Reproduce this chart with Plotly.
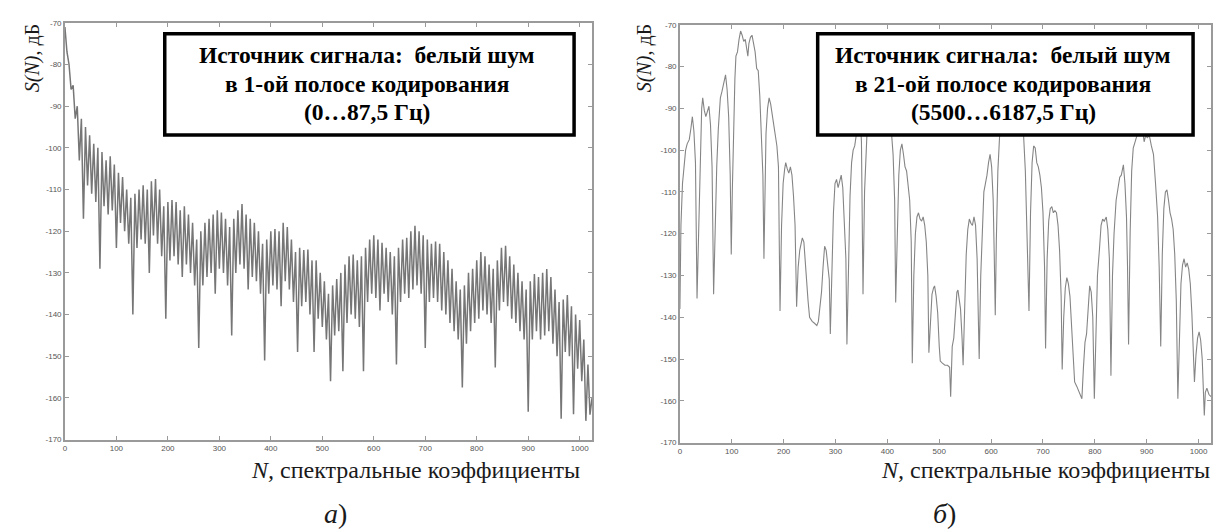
import plotly.graph_objects as go

# ---------------- data ----------------
# Panel a): spectrum S(N) in dB, sampled every 4 coefficients (N = 0, 4, ..., 1024)
left_db = [
    -71, -77, -80, -86, -85, -93, -90, -103, -93, -117, -95, -109, -97, -111, -99, -113,
    -100, -129, -101, -114, -103, -116, -102, -115, -104, -124, -106, -118, -107, -120, -110, -123,
    -112, -140, -111, -124, -110, -122, -109, -123, -110, -130, -108, -121, -107.5, -123, -110, -126,
    -114, -141, -113, -127, -112.5, -126, -113, -128, -115, -131, -114, -128, -116, -130, -118, -133,
    -122, -148, -120, -133, -118, -131, -117, -130, -116, -135, -115, -129, -115.5, -130, -117, -133,
    -119, -145, -117, -130, -115, -128, -113.5, -129, -116, -134, -117, -131, -118, -132, -120, -135,
    -123, -151, -122, -135, -120, -133, -119.5, -134, -120, -138, -118, -132, -119, -134, -122, -137,
    -125, -149, -124, -138, -124.5, -137, -124.4, -140, -127, -149, -127, -141, -130, -143, -132, -146,
    -135, -156, -133, -145, -131.5, -144, -130, -153.6, -128, -142, -126, -140, -125.6, -141, -127, -143,
    -126, -153.6, -124, -137, -122, -135, -121, -136, -122, -139, -122.8, -135, -124, -137, -125, -140,
    -126, -152, -124, -137, -122, -135, -121.6, -136, -120, -134, -118.7, -133, -120, -135, -121, -148,
    -122, -137, -123, -136, -122.5, -137, -123, -139, -125, -140, -127, -142, -129, -144, -132, -146,
    -134, -157.5, -133, -147, -130, -144, -129, -142, -127, -141, -125, -139, -126, -140, -128, -142,
    -129, -152.7, -127, -139, -124, -137, -123.5, -138, -126, -141, -128, -142, -130, -144, -132, -146,
    -134, -163.3, -132, -146, -130.3, -144, -131, -146, -130, -145, -129.1, -144, -131, -147, -134, -150,
    -137, -165, -136.4, -149, -135.3, -150, -138, -163.9, -140, -153, -141.3, -156, -146, -165.5, -152, -164,
    -160,
]
left_n = list(range(0, 1025, 4))

# Panel б): spectrum S(N) in dB
right_n = [
    0, 2, 5, 8, 11, 14, 18, 21, 24, 27,
    30, 33, 36, 39, 42, 44, 47, 50, 53, 56,
    59, 62, 65, 68, 71, 74, 78, 81, 85, 88,
    91, 94, 97, 99, 101, 104, 106, 108, 111, 114,
    117, 120, 123, 126, 129, 131, 133, 136, 139, 142,
    145, 148, 151, 154, 157, 160, 162, 164, 166, 169,
    172, 175, 178, 181, 184, 187, 190, 193, 196, 199,
    202, 204, 207, 210, 213, 216, 219, 222, 225, 228,
    231, 234, 236, 239, 241, 244, 247, 250, 255, 260,
    264, 267, 270, 273, 276, 279, 282, 285, 288, 290,
    293, 296, 299, 302, 305, 308, 311, 314, 317, 320,
    322, 325, 328, 331, 334, 337, 340, 344, 347, 350,
    353, 356, 359, 362, 366, 370, 375, 380, 385, 390,
    395, 400, 404, 408, 411, 414, 416, 419, 422, 425,
    428, 431, 434, 437, 440, 443, 446, 448, 451, 454,
    457, 460, 463, 466, 469, 472, 475, 478, 480, 483,
    486, 489, 491, 494, 497, 500, 502, 506, 511, 516,
    520, 522, 525, 528, 531, 534, 536, 538, 541, 544,
    546, 549, 552, 555, 558, 561, 564, 567, 570, 573,
    577, 580, 583, 586, 589, 592, 595, 598, 601, 604,
    606, 608, 610, 613, 617, 621, 626, 632, 638, 644,
    650, 656, 662, 666, 669, 673, 676, 679, 682, 685,
    688, 691, 694, 697, 700, 703, 705, 708, 711, 714,
    717, 720, 723, 726, 729, 732, 735, 737, 740, 743,
    746, 749, 752, 755, 758, 761, 765, 770, 775, 778,
    781, 784, 787, 790, 793, 796, 799, 802, 805, 809,
    812, 815, 818, 822, 825, 828, 831, 834, 837, 841,
    844, 848, 851, 855, 858, 861, 863, 865, 868, 871,
    874, 877, 880, 883, 886, 889, 892, 895, 898, 901,
    905, 909, 913, 917, 921, 924, 927, 930, 933, 936,
    939, 942, 945, 948, 951, 954, 957, 960, 963, 966,
    969, 972, 975, 978, 981, 984, 987, 990, 992, 995,
    998, 1001, 1004, 1007, 1009, 1011, 1013, 1016, 1020, 1024,
]
right_db = [
    -138, -118, -108, -103, -100, -98.5, -97.5, -95, -92, -95.5,
    -103, -135.5, -118, -100, -90, -87.5, -90.5, -92, -90.5, -89.5,
    -94, -104, -134.5, -118, -104, -95, -87.5, -86, -84, -82,
    -85.5, -92, -106, -125, -110, -90, -83, -77.5, -76.5, -73.5,
    -71.5, -72.5, -74, -73.5, -76, -77.5, -74.5, -73, -72.5, -74.5,
    -76.5, -80.5, -81, -87, -95, -106, -126, -110, -96, -90,
    -87.5, -89, -92, -94, -96.5, -99, -104, -138.5, -118, -108,
    -104.5, -103, -104.5, -105.5, -104, -106, -111, -118, -137.5, -128,
    -124, -122, -121, -122, -126, -132, -136, -140, -141, -141.5,
    -142, -141, -137.5, -134, -128, -123, -124, -127, -131, -144,
    -125, -115, -108, -107, -109, -107.5, -106, -109, -116, -126,
    -146.5, -125, -111, -103, -100, -99, -96.5, -93, -90.5, -98,
    -134.5, -110, -99, -92, -86, -83, -81, -80, -80.5, -82,
    -85, -88, -92, -96, -101, -112, -136.5, -118, -106, -100,
    -98.5, -101, -104, -105, -108, -112, -122, -151, -130, -120,
    -116, -115, -116.5, -117, -116, -118, -122, -130, -148.5, -140,
    -134.5, -133, -132.5, -135, -139, -147, -150.5, -151, -151.5, -151.5,
    -152, -159, -147, -145, -140, -134, -133.5, -135, -138, -145,
    -151.5, -138, -125, -119, -116.5, -117.5, -118, -116, -118, -126,
    -150, -130, -118, -110, -108, -106, -103, -101, -104, -112,
    -125, -139.5, -122, -105, -95, -88, -82, -78, -77, -78,
    -82, -88, -95, -105, -118, -138.5, -115, -103, -99, -99.5,
    -103, -104, -106, -109, -115, -128, -147.5, -126, -117, -114,
    -113.5, -115, -114.5, -115, -118, -124, -135, -152.5, -140, -133,
    -130.5, -132, -135, -141, -148, -155.5, -156.5, -158, -159.5, -152,
    -146, -144, -138, -132.5, -134, -140, -159.5, -140, -130, -123.5,
    -118, -116.5, -117, -116, -119, -126, -154, -130, -120, -112,
    -110, -106.5, -106, -103.5, -108, -116, -128, -146.5, -120, -105,
    -99.5, -98, -97, -96, -95.5, -96, -95, -98, -96.5, -97,
    -96.5, -99, -101, -108, -116, -128, -147, -125, -114, -110,
    -109.5, -112, -115, -116.5, -119, -125, -136, -159.5, -145, -132,
    -127.5, -126, -128, -127, -128.5, -132, -139, -148, -155.5, -149,
    -145, -143.5, -145.5, -150, -156, -163.5, -158, -157, -158.5, -159,
]

x_tickvals = [0, 100, 200, 300, 400, 500, 600, 700, 800, 900, 1000]
y_tickvals = [-70, -80, -90, -100, -110, -120, -130, -140, -150, -160, -170]
y_ticktext = ["-70", "-80", "-90", "-100", "-110", "-120", "-130", "-140", "-150", "-160", "-170"]

box_left_lines = ["Источник сигнала:  белый шум", "в 1-ой полосе кодирования", "(0…87,5 Гц)"]
box_right_lines = ["Источник сигнала:  белый шум", "в 21-ой полосе кодирования", "(5500…6187,5 Гц)"]
y_title = "<i>S(N)</i>, дБ"
x_title = "<i>N,</i> спектральные коэффициенты"
captions = ["<i>а</i>)", "<i>б</i>)"]

# ---------------- figure ----------------
W, H = 1228, 530
FRAME = "#9a9a9a"
SERIF = "Liberation Serif"

fig = go.Figure()
fig.add_trace(go.Scatter(x=left_n, y=left_db, mode="lines",
                         line=dict(color="#767676", width=1.5), xaxis="x", yaxis="y",
                         showlegend=False, hoverinfo="skip"))
fig.add_trace(go.Scatter(x=right_n, y=right_db, mode="lines",
                         line=dict(color="#858585", width=1.1), xaxis="x2", yaxis="y2",
                         showlegend=False, hoverinfo="skip"))

def px(x):
    return x / W

def py(y):
    return 1 - y / H

axis_common = dict(showgrid=False, zeroline=False, showline=True, linecolor=FRAME,
                   linewidth=1.5, mirror="ticks", ticks="inside", ticklen=4,
                   tickcolor=FRAME, tickwidth=1,
                   tickfont=dict(family="Liberation Sans", size=8, color="#555"))

fig.update_layout(
    width=W, height=H, margin=dict(l=0, r=0, t=0, b=0),
    paper_bgcolor="white", plot_bgcolor="white",
    xaxis=dict(domain=[px(55), px(583)], range=[0, 1024], tickvals=x_tickvals,
               anchor="y", **axis_common),
    yaxis=dict(domain=[py(435), py(11)], range=[-170, -70], tickvals=y_tickvals,
               ticktext=y_ticktext, anchor="x", **axis_common),
    xaxis2=dict(domain=[px(671), px(1203)], range=[0, 1024], tickvals=x_tickvals,
                anchor="y2", **axis_common),
    yaxis2=dict(domain=[py(438), py(13)], range=[-170, -70], tickvals=y_tickvals,
                ticktext=y_ticktext, anchor="x2", **axis_common),
)

shapes = []
annotations = []

# annotation boxes
for (x0, x1, cx, lines) in [(155, 565, 358, box_left_lines), (809, 1185, 995, box_right_lines)]:
    shapes.append(dict(type="rect", xref="paper", yref="paper",
                       x0=px(x0), x1=px(x1), y0=py(125), y1=py(22),
                       line=dict(color="black", width=3.5), fillcolor="white", layer="above"))
    for i, t in enumerate(lines):
        annotations.append(dict(text=f"<b>{t}</b>", xref="paper", yref="paper",
                                x=px(cx), y=py(44 + 29 * i), xanchor="center", yanchor="middle",
                                showarrow=False,
                                font=dict(family=SERIF, size=23.5, color="black")))

# axis titles and captions
for (ytx, xtx) in [(22, 406), (635, 1037)]:
    annotations.append(dict(text=y_title, xref="paper", yref="paper", x=px(ytx), y=py(47),
                            xanchor="center", yanchor="middle", textangle=-90, showarrow=False,
                            font=dict(family=SERIF, size=20, color="#1a1a1a")))
    annotations.append(dict(text=x_title, xref="paper", yref="paper", x=px(xtx), y=py(466),
                            xanchor="center", yanchor="middle", showarrow=False,
                            font=dict(family=SERIF, size=24, color="#1a1a1a")))
for capx, cap in zip([326, 936], captions):
    annotations.append(dict(text=cap, xref="paper", yref="paper", x=px(capx), y=py(510),
                            xanchor="center", yanchor="middle", showarrow=False,
                            font=dict(family=SERIF, size=28, color="#1a1a1a")))

fig.update_layout(shapes=shapes, annotations=annotations)
fig.write_html("out.html")
